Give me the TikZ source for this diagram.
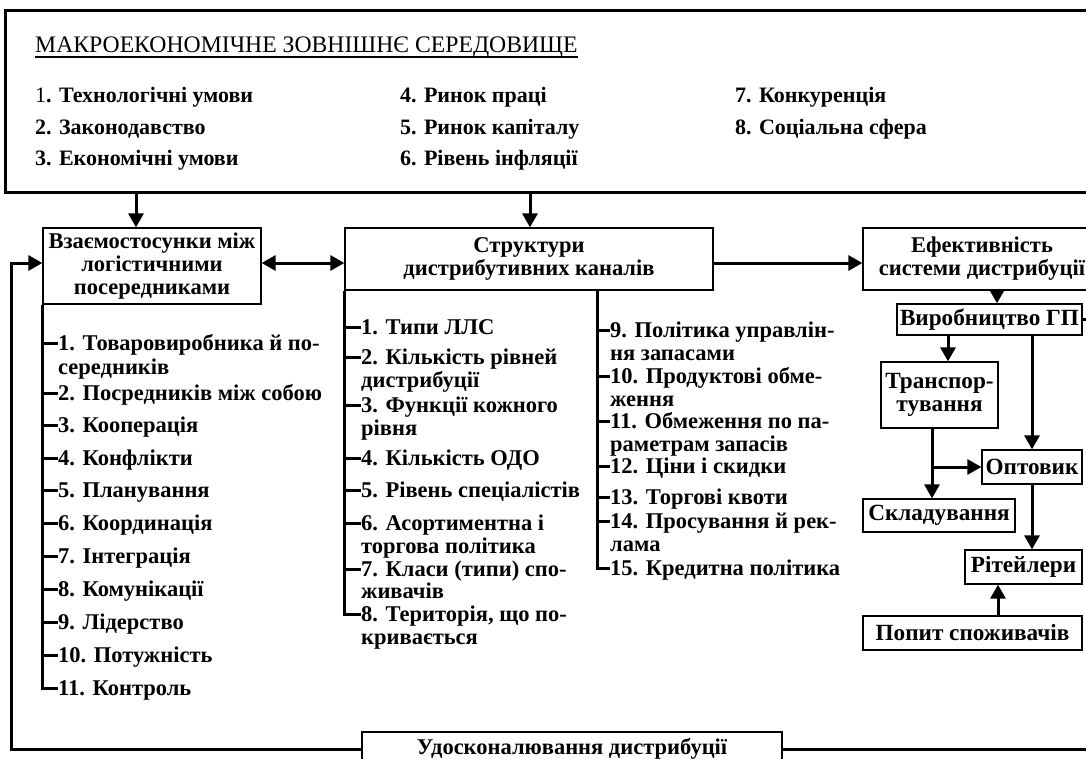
\documentclass[tikz,border=0pt]{standalone}
\usepackage{fontspec}
\setmainfont{Liberation Serif}
\usetikzlibrary{arrows.meta}
\begin{document}
\begin{tikzpicture}[x=1pt,y=-1pt,
  heavy/.style={line width=3pt},
  arr/.style={heavy,-{Triangle[length=14pt,width=15pt]}},
  darr/.style={heavy,{Triangle[length=14pt,width=15pt]}-{Triangle[length=14pt,width=15pt]}},
  box/.style={draw,line width=1.3pt,fill=white,inner sep=0pt,align=center,
    font=\bfseries\fontsize{22.5}{23}\selectfont},
  chainbox/.style={box,font=\bfseries\fontsize{23.2}{23}\selectfont},
  envtext/.style={anchor=base west,inner sep=0pt,font=\bfseries\fontsize{22}{25}\selectfont},
  item/.style={anchor=west,inner sep=0pt,font=\bfseries\fontsize{22.5}{25}\selectfont,
    text height=15pt,text depth=0pt}
]
\useasboundingbox (0,0) rectangle (1086,758);
\fill[white] (0,0) rectangle (1086,758);
\clip (0,0) rectangle (1086,758);

% external environment frame
\node[draw,heavy,inner sep=0pt,minimum width=1100pt,minimum height=182pt] (env) at (555,101) {};
\node[anchor=base west,inner sep=0pt,font=\fontsize{23.7}{25}\selectfont] (title) at (35,52)
  {МАКРОЕКОНОМІЧНЕ ЗОВНІШНЄ СЕРЕДОВИЩЕ};
\draw[line width=2pt] ([yshift=-5pt]title.base west) -- ([yshift=-5pt]title.base east);

\node[envtext] (e1) at (35,102) {\mdseries 1\bfseries. Технологічні умови};
\node[envtext] (e2) at (35,134) {2. Законодавство};
\node[envtext] (e3) at (35,165) {3. Економічні умови};
\node[envtext] (e4) at (400,102) {4. Ринок праці};
\node[envtext] (e5) at (400,134) {5. Ринок капіталу};
\node[envtext] (e6) at (400,165) {6. Рівень інфляції};
\node[envtext] (e7) at (735,102) {7. Конкуренція};
\node[envtext] (e8) at (735,134) {8. Соціальна сфера};

% main blocks
\node[box,minimum width=218pt,minimum height=76pt] (A) at (152,266)
  {Взаємостосунки між\\логістичними\\посередниками};
\node[box,minimum width=368pt,minimum height=62pt] (B) at (529,259)
  {Структури\\дистрибутивних каналів};
\node[box,minimum width=238pt,minimum height=62pt] (C) at (982,259)
  {Ефективність\\системи дистрибуції};

% distribution chain
\node[chainbox,minimum width=185pt,minimum height=31pt] (V) at (989.5,319.5) {Виробництво ГП};
\node[chainbox,minimum width=117pt,minimum height=66pt] (T) at (939.5,395) {Транспор-\\тування};
\node[chainbox,minimum width=100pt,minimum height=34pt] (O) at (1032,467) {Оптовик};
\node[chainbox,minimum width=152pt,minimum height=33pt] (S) at (939,515.5) {Складування};
\node[chainbox,minimum width=117pt,minimum height=34pt] (R) at (1023.5,567) {Рітейлери};
\node[chainbox,minimum width=219pt,minimum height=34pt] (P) at (972.5,633) {Попит споживачів};

\node[box,minimum width=420pt,minimum height=34pt] (U) at (572,749) {Удосконалювання дистрибуції};

% helper abscissae and the row of the horizontal links
\coordinate (xa) at (136,0);
\coordinate (xb) at (530,0);
\coordinate (xc) at (597,0);
\coordinate (xv) at (997,0);
\coordinate (xt) at (948,0);
\coordinate (xo) at (1032,0);
\coordinate (xs) at (932,0);
\coordinate (xp) at (998,0);
\coordinate (xl) at (11,0);
\coordinate (xr) at (1100,0);
\coordinate (yl) at (0,263);

% arrows from the environment
\draw[arr] (xa |- env.south) -- (xa |- A.north);
\draw[arr] (xb |- env.south) -- (xb |- B.north);

% links between main blocks
\draw[darr] (A.east |- yl) -- (B.west |- yl);
\draw[arr] (B.east |- yl) -- (C.west |- yl);

% feedback loop
\draw[arr] (U.west) -- (xl |- U.west) -- (xl |- yl) -- (A.west |- yl);
\draw[heavy] (U.east) -- (xr |- U.east);

% chain arrows
\draw[arr] (xv |- C.south) -- (xv |- V.north);
\draw[arr] (xt |- V.south) -- (xt |- T.north);
\draw[arr] (xo |- V.south) -- (O.north);
\draw[heavy] (V.east) -- (xr |- V.east);
\draw[arr] (xs |- T.south) -- (xs |- S.north);
\draw[arr] (xs |- O.west) -- (O.west);
\draw[arr] (O.south) -- (O.south |- R.north);
\draw[arr] (xp |- P.north) -- (xp |- R.south);

% list of relations
\node[item] (a1) at (58,343) {1. Товаровиробника й по-};
\node[item] (a1b) at (58,367) {середників};
\node[item] (a2) at (58,393) {2. Посредників між собою};
\node[item] (a3) at (58,425) {3. Кооперація};
\node[item] (a4) at (58,458) {4. Конфлікти};
\node[item] (a5) at (58,490) {5. Планування};
\node[item] (a6) at (58,523) {6. Координація};
\node[item] (a7) at (58,556) {7. Інтеграція};
\node[item] (a8) at (58,589) {8. Комунікації};
\node[item] (a9) at (58,622) {9. Лідерство};
\node[item] (a10) at (58,655) {10. Потужність};
\node[item] (a11) at (58,688) {11. Контроль};
\draw[heavy] (A.south west) |- (a11.west);
\foreach \i in {1,...,10} \draw[heavy] (A.south west |- a\i.west) -- (a\i.west);

% channel structure, first column
\node[item] (b1) at (361,327) {1. Типи ЛЛС};
\node[item] (b2) at (361,357) {2. Кількість рівней};
\node[item] (b2b) at (361,380) {дистрибуції};
\node[item] (b3) at (361,405) {3. Функції кожного};
\node[item] (b3b) at (361,428) {рівня};
\node[item] (b4) at (361,458) {4. Кількість ОДО};
\node[item] (b5) at (361,490) {5. Рівень спеціалістів};
\node[item] (b6) at (361,523) {6. Асортиментна і};
\node[item] (b6b) at (361,546) {торгова політика};
\node[item] (b7) at (361,569) {7. Класи (типи) спо-};
\node[item] (b7b) at (361,591) {живачів};
\node[item] (b8) at (361,614) {8. Територія, що по-};
\node[item] (b8b) at (361,637) {кривається};
\draw[heavy] (B.south west) |- (b8.west);
\foreach \i in {1,...,7} \draw[heavy] (B.south west |- b\i.west) -- (b\i.west);

% channel structure, second column
\node[item] (c9) at (610,330) {9. Політика управлін-};
\node[item] (c9b) at (610,353) {ня запасами};
\node[item] (c10) at (610,376) {10. Продуктові обме-};
\node[item] (c10b) at (610,399) {ження};
\node[item] (c11) at (610,421) {11. Обмеження по па-};
\node[item] (c11b) at (610,444) {раметрам запасів};
\node[item] (c12) at (610,466) {12. Ціни і скидки};
\node[item] (c13) at (610,497) {13. Торгові квоти};
\node[item] (c14) at (610,521) {14. Просування й рек-};
\node[item] (c14b) at (610,544) {лама};
\node[item] (c15) at (610,568) {15. Кредитна політика};
\draw[heavy] (xc |- B.south) |- (c15.west);
\foreach \i in {9,...,14} \draw[heavy] (xc |- c\i.west) -- (c\i.west);
\end{tikzpicture}
\end{document}
